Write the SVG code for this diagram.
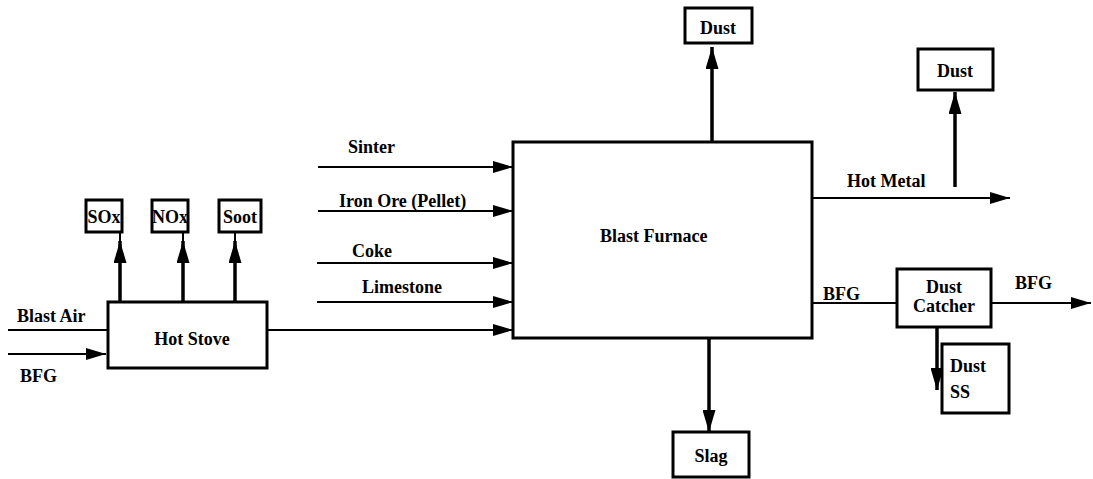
<svg xmlns="http://www.w3.org/2000/svg" width="1093" height="479" viewBox="0 0 1093 479">
<defs>
<style>
.box{fill:#fff;stroke:#000;stroke-width:3}
.t{font-family:"Liberation Serif","Times New Roman",serif;font-size:18px;font-weight:bold;fill:#000}
.c{text-anchor:middle}
.thin{stroke:#000;stroke-width:2;fill:none}
.thick{stroke:#000;stroke-width:3.5;fill:none}
</style>
<marker id="ah" markerUnits="userSpaceOnUse" markerWidth="20" markerHeight="12" refX="20" refY="6" orient="auto">
<path d="M0,0 L20,6 L0,12 z" fill="#000"/>
</marker>
<marker id="av" markerUnits="userSpaceOnUse" markerWidth="22" markerHeight="13" refX="22" refY="6.5" orient="auto">
<path d="M0,0 L22,6.5 L0,13 z" fill="#000"/>
</marker>
</defs>
<rect width="1093" height="479" fill="#fff"/>
<g id="connectors">
<line class="thin" x1="8" y1="330" x2="108" y2="330"/>
<line class="thin" x1="8" y1="354" x2="106" y2="354" marker-end="url(#ah)"/>
<line class="thick" x1="120" y1="302" x2="120" y2="241" marker-end="url(#av)"/>
<line class="thin" x1="120" y1="241" x2="120" y2="232"/>
<line class="thick" x1="183" y1="302" x2="183" y2="241" marker-end="url(#av)"/>
<line class="thin" x1="183" y1="241" x2="183" y2="232"/>
<line class="thick" x1="235" y1="302" x2="235" y2="241" marker-end="url(#av)"/>
<line class="thin" x1="235" y1="241" x2="235" y2="232"/>
<line class="thin" x1="267" y1="330" x2="513" y2="330" marker-end="url(#ah)"/>
<line class="thin" x1="318" y1="167" x2="513" y2="167" marker-end="url(#ah)"/>
<line class="thin" x1="318" y1="211" x2="513" y2="211" marker-end="url(#ah)"/>
<line class="thin" x1="317" y1="263" x2="513" y2="263" marker-end="url(#ah)"/>
<line class="thin" x1="317" y1="302" x2="513" y2="302" marker-end="url(#ah)"/>
<line class="thick" x1="712" y1="142" x2="712" y2="47" marker-end="url(#av)"/>
<line class="thin" x1="812" y1="198" x2="1010" y2="198" marker-end="url(#ah)"/>
<line class="thick" x1="955" y1="187" x2="955" y2="92" marker-end="url(#av)"/>
<line class="thin" x1="812" y1="303" x2="897" y2="303"/>
<line class="thin" x1="991" y1="303" x2="1091" y2="303" marker-end="url(#ah)"/>
<line class="thick" x1="937" y1="327" x2="937" y2="390" marker-end="url(#av)"/>
<line class="thick" x1="709" y1="338" x2="709" y2="432" marker-end="url(#av)"/>
</g>
<g id="labels">
<text class="t" x="17" y="322">Blast Air</text>
<text class="t" x="20" y="382">BFG</text>
<text class="t" x="348" y="153">Sinter</text>
<text class="t" x="339" y="207">Iron Ore (Pellet)</text>
<text class="t" x="352" y="257">Coke</text>
<text class="t" x="362" y="293">Limestone</text>
<text class="t" x="847" y="187">Hot Metal</text>
<text class="t" x="823" y="300">BFG</text>
<text class="t" x="1015" y="289">BFG</text>
</g>
<g id="hot-stove">
<rect class="box" x="108" y="302" width="159" height="66"/>
<text class="t c" x="192" y="345">Hot Stove</text>
</g>
<g id="sox">
<rect class="box" x="86" y="200" width="36" height="32"/>
<text class="t c" x="104" y="223">SOx</text>
</g>
<g id="nox">
<rect class="box" x="152" y="200" width="36" height="32"/>
<text class="t c" x="170" y="223">NOx</text>
</g>
<g id="soot">
<rect class="box" x="219" y="200" width="42" height="32"/>
<text class="t c" x="240" y="223">Soot</text>
</g>
<g id="blast-furnace">
<rect class="box" x="513" y="142" width="299" height="196"/>
<text class="t" x="600" y="242">Blast Furnace</text>
</g>
<g id="dust-top">
<rect class="box" x="685" y="8" width="67" height="35"/>
<text class="t c" x="718" y="34">Dust</text>
</g>
<g id="dust-metal">
<rect class="box" x="918" y="49" width="75" height="41"/>
<text class="t c" x="955" y="77">Dust</text>
</g>
<g id="dust-catcher">
<rect class="box" x="897" y="269" width="94" height="58"/>
<text class="t c" x="944" y="293">Dust</text>
<text class="t c" x="944" y="312">Catcher</text>
</g>
<g id="dust-ss">
<rect class="box" x="942" y="344" width="67" height="69"/>
<text class="t" x="950" y="372">Dust</text>
<text class="t" x="950" y="398">SS</text>
</g>
<g id="slag">
<rect class="box" x="673" y="432" width="76" height="45"/>
<text class="t c" x="711" y="462">Slag</text>
</g>
</svg>
